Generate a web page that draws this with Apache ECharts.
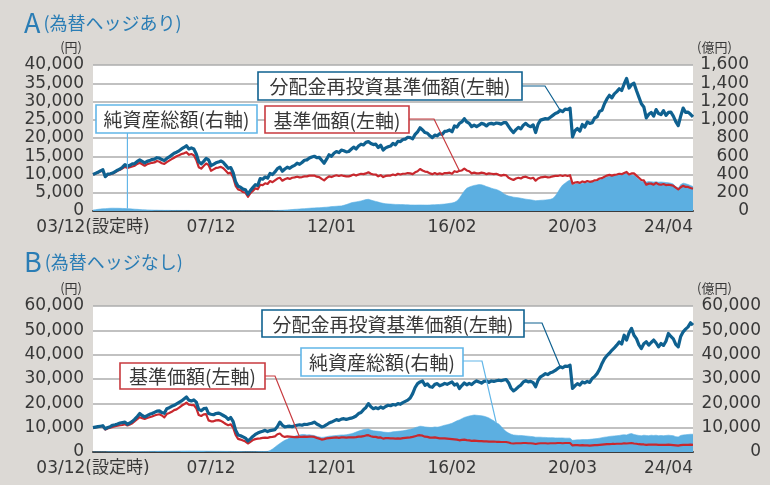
<!DOCTYPE html>
<html>
<head>
<meta charset="utf-8">
<script src="https://cdn.jsdelivr.net/npm/echarts@6/dist/echarts.min.js"></script>
<style>
  html, body { margin: 0; padding: 0; background: #dcd9d5; }
  #chart { width: 770px; height: 485px; }
</style>
</head>
<body>
<div id="chart"></div>
<script>
// Month-end readings, 2003/12 .. 2024/04 (one value per month)
const tickMonths = ['2003/12', '2007/12', '2012/01', '2016/02', '2020/03', '2024/04'];
const tickLabels = ['03/12(設定時)', '07/12', '12/01', '16/02', '20/03', '24/04'];

// A: hedged — reinvested NAV (円)
const reinvestA = [
  10000,
  10300,10600,11000,11300,9400,10100,10200,10400,10800,11200,11500,12000,
  12700,12300,12500,12900,13000,13600,14000,13600,13200,13600,13800,14100,
  14200,14600,14500,14100,13800,14400,14800,15300,15800,16100,16500,17000,
  17400,17900,17000,17300,17000,15600,13500,12900,13600,14400,14000,12400,
  12800,13200,13400,13700,13300,12500,11700,11900,10500,8000,6800,6500,
  6000,5800,4600,5600,6400,7200,7000,8900,8700,9300,9000,10300,
  10000,10700,11600,12000,10900,11500,12000,11700,12200,12500,13100,12800,
  13300,13900,14000,14500,14800,15000,14600,14700,13900,13100,14200,15400,
  15000,15800,16300,16000,16700,16500,16200,16300,16900,17500,17000,17800,
  18300,18100,18800,19000,18500,18200,18300,17400,18000,16700,17300,17600,
  17800,18500,18100,19100,19000,19600,19700,20200,20100,19800,21000,21700,
  22800,22200,21500,21300,20600,20100,20800,20600,21200,21000,21800,21900,
  22200,21700,23300,23000,24000,24400,25300,24400,24000,23100,23500,23100,
  23500,24000,23800,23300,23900,24000,23800,24100,24000,23800,24200,24200,
  23200,22200,21500,22300,22900,22500,23500,24000,23400,23100,23600,21500,
  23800,24900,25100,25300,25200,25700,26200,26700,27000,27600,27200,27900,
  27800,28200,20300,22000,22600,21900,23700,23000,24400,24000,24200,25500,
  25800,27300,27600,29400,30700,31700,31000,32100,32700,33500,33000,34800,
  36300,33700,34600,35000,33000,31200,29400,28500,25500,26500,27000,26000,
  27800,26700,26400,27500,26200,27000,27100,26000,24500,23400,26000,28200,
  27000,27100,26500,25800
];

// A: hedged — NAV (円)
const navA = [
  10000,
  10250,10550,10900,11000,9400,9900,10100,10300,10600,11000,11300,11700,
  12100,11800,12000,12200,12400,12900,13200,12800,12400,12800,13000,13200,
  13300,13700,13500,13100,12900,13400,13800,14200,14600,15000,15300,15600,
  15800,16100,15400,15600,15300,14000,12000,11600,12300,13000,12600,11000,
  11400,11800,11900,12100,11700,11000,10300,10500,9200,6900,5900,5700,
  5200,5000,3900,4900,5500,6200,6000,7200,7100,7600,7400,8200,
  7900,8400,8900,9100,8300,8700,9000,8800,9100,9200,9400,9200,
  9300,9500,9500,9700,9700,9700,9400,9300,8800,8400,9000,9500,
  9300,9600,9800,9600,9800,9600,9500,9500,9700,10000,9700,10000,
  10200,10100,10300,10600,10200,10000,10000,9500,9800,9300,9600,9700,
  9700,10000,9800,10200,10000,10200,10200,10400,10300,10100,10600,10900,
  11500,11100,10800,10700,10300,10100,10400,10100,10300,10100,10400,10400,
  10500,10200,10900,10700,11000,11100,11600,11100,10900,10300,10500,10300,
  10300,10500,10400,10100,10300,10200,10100,10200,9900,9700,9900,9800,
  9100,8800,8500,8900,9100,8900,9300,9400,9100,8900,9100,8300,
  8900,9200,9300,9400,9200,9300,9500,9600,9600,9800,9600,9800,
  9600,9800,7500,7800,7900,7700,8100,7900,8200,8000,8100,8400,
  8500,8900,9000,9400,9700,9900,9700,9900,10000,10200,10100,10400,
  10700,10000,10300,10300,9700,9100,8500,8400,7200,7500,7500,7200,
  7700,7300,7200,7400,7100,7200,7100,6900,6400,5900,6500,6900,
  6600,6600,6300,6100
];

// A: hedged — net assets (億円)
const assetsA = [
  10,
  14,18,22,25,26,28,30,31,30,30,29,28,
  27,26,24,22,20,18,16,14,13,12,11,10,
  9,9,8,8,7,7,7,6,6,6,6,6,
  6,6,6,5,5,5,5,5,5,5,5,4,
  4,4,4,4,4,4,4,4,3,3,3,3,
  3,3,3,3,3,3,3,3,3,3,3,3,
  4,5,6,7,8,10,12,14,16,18,20,22,
  24,26,28,30,32,34,35,36,38,40,42,45,
  48,50,52,54,56,62,70,80,90,95,100,105,
  110,118,125,128,120,112,105,98,90,84,80,78,
  76,74,72,72,70,70,68,68,66,66,65,66,
  66,66,65,65,66,68,68,70,72,74,76,80,
  84,88,95,110,140,180,220,250,262,272,280,285,
  290,288,280,268,260,250,242,236,225,210,190,175,
  165,158,152,148,145,140,135,130,126,122,118,113,
  115,117,119,121,124,128,138,165,205,250,285,305,
  325,340,285,295,300,302,305,308,312,315,320,322,
  330,340,350,362,372,378,385,392,400,405,410,414,
  415,405,395,390,370,345,325,320,318,322,320,318,
  320,316,318,315,312,310,305,295,265,250,290,305,
  300,290,280,268
];

// B: unhedged — reinvested NAV (円)
const reinvestB = [
  10000,
  10200,10400,10600,10800,9500,10100,10400,11000,11200,11500,11900,12100,
  12300,11400,11900,12600,13500,14600,15800,15000,14400,14900,15500,15800,
  16300,16800,16900,16200,15900,17800,18200,18800,19200,19800,20400,21000,
  21800,22600,21300,21000,21400,20500,17500,17000,17800,18000,15800,15500,
  15300,15800,16000,15600,15000,14400,13400,14200,12500,9000,7000,6700,
  6200,5700,4500,5400,6400,7200,7800,8200,8500,8900,8400,8800,
  9000,9200,10500,12300,11000,10300,10500,10600,10400,10800,11000,11200,
  11000,11400,11300,11600,11800,12300,11500,11000,10300,10600,11200,11900,
  12300,12800,13300,13000,13500,13700,13400,13700,13900,14300,14800,15800,
  16200,17400,18300,19900,18600,17800,18200,17800,18500,18000,18700,19200,
  19000,19500,19300,19900,19600,20300,20800,21300,22200,24000,26500,28100,
  28800,29200,27400,28000,26800,26600,27800,28100,27200,27600,28200,27800,
  28300,28800,27500,28000,26100,27300,28400,27600,28200,27700,28600,29200,
  28800,28300,29000,29200,28600,29200,29000,29300,29500,29300,29600,29800,
  28500,26200,25100,25800,26800,27500,28800,29300,28800,29000,28500,26800,
  29500,30900,31500,32200,31800,32600,32900,33500,34300,35000,34600,35300,
  35200,35700,26100,27200,28100,27500,28800,28400,29000,28600,30200,31000,
  32200,34000,36400,38300,39600,40600,41800,42800,43900,45200,44400,48000,
  46000,49000,50800,48000,46600,44000,42500,44500,45300,43900,45000,46000,
  44800,43200,44600,43800,45500,48700,47500,46500,44200,43200,47500,49400,
  50500,51400,53100,52100
];

// B: unhedged — NAV (円)
const navB = [
  10000,
  10100,10300,10500,10500,9200,9700,10000,10300,10600,10800,11000,11100,
  11400,10900,11300,11800,12700,13500,14300,13900,13600,14000,14300,14600,
  15000,15300,15500,15000,14200,15600,16000,16500,17200,17500,18200,19000,
  19600,20300,19500,19300,19300,18000,15200,14800,15500,15600,13000,12600,
  12600,13000,13100,12800,12200,11500,11000,11400,10000,7000,5400,5100,
  4700,4300,3500,4200,4900,5300,5500,5600,5800,5900,5800,6100,
  6200,6400,7300,7600,6600,6200,6400,6300,6200,6100,6100,6200,
  6200,6300,6200,6300,6300,6200,5800,5500,5100,5300,5600,5700,
  5800,5900,6000,5800,6000,6000,5900,6000,6000,6000,6100,6300,
  6300,6500,6800,6900,6500,6200,6200,5900,6000,5500,5700,5700,
  5600,5600,5500,5600,5500,5700,5800,5900,6000,6200,6500,6800,
  6900,6700,6300,6200,5900,5900,6000,5800,5600,5600,5600,5500,
  5400,5300,5200,5100,4800,5000,5100,4900,4800,4600,4700,4600,
  4500,4500,4400,4400,4300,4300,4300,4200,4200,4100,4100,4100,
  3900,3600,3500,3600,3600,3600,3700,3700,3600,3600,3500,3300,
  3500,3600,3600,3600,3500,3600,3600,3600,3700,3700,3600,3700,
  3700,3700,2700,2800,2800,2700,2800,2700,2700,2600,2700,2800,
  2800,2900,3000,3100,3200,3200,3300,3300,3400,3400,3400,3600,
  3500,3600,3700,3500,3400,3200,3100,3100,2900,3000,3000,3000,
  3000,2900,2900,2900,2900,3000,2900,2800,2700,2600,2800,2900,
  2900,2900,3000,2900
];

// B: unhedged — net assets (億円)
const assetsB = [
  0,
  20,30,40,50,50,60,70,80,90,100,110,120,
  130,140,150,160,170,180,190,200,210,220,230,240,
  250,260,270,280,290,300,310,320,330,340,350,360,
  370,380,390,400,400,390,380,370,360,350,340,330,
  320,310,300,290,280,270,260,250,230,200,180,160,
  150,140,130,130,140,150,160,170,180,200,250,600,
  1200,2000,2800,3500,4200,4800,5200,5800,6200,6500,6800,7000,
  7200,7200,7000,7100,6900,6800,6400,6200,6000,6100,6300,6500,
  6600,6700,6800,6900,7000,7000,7100,7300,7500,7800,8200,8600,
  8900,9200,9400,9500,9000,8700,8600,8500,8400,8200,8100,8000,
  8100,8300,8400,8500,8600,8700,8900,9100,9300,9600,10000,10300,
  10600,10500,10300,10200,10100,10100,10300,10200,10400,10700,11000,11200,
  11500,11800,12300,12800,13200,13700,14200,14500,14800,15000,15200,15100,
  15000,14900,14700,14400,14000,13400,12800,12000,11500,10500,9300,8400,
  7800,7300,7000,6900,6800,6800,6700,6600,6500,6400,6300,6100,
  6100,6100,6000,6000,5900,5900,5900,5800,5800,5800,5800,5700,
  5700,5700,4800,4900,5000,5000,5100,5100,5100,5200,5300,5400,
  5500,5700,5900,6100,6200,6400,6500,6600,6700,6800,7000,7100,
  7000,7400,7600,7200,7000,6800,6700,6900,6800,6700,6900,6800,
  6900,6700,6800,6700,6800,6900,6800,6700,6300,6200,6800,7000,
  7100,7200,7300,7300
];

// Monthly category list 2003/12 .. 2024/04
const months = [];
for (let y = 2003, m = 12; y < 2024 || (y === 2024 && m <= 4);) {
  months.push(y + '/' + String(m).padStart(2, '0'));
  if (++m > 12) { m = 1; y++; }
}

const BLUE = '#0f6190';
const RED = '#c8282e';
const AREA = '#5cafe1';
const AREA_EDGE = '#5ab2e6';
const TITLE = '#2a7db5';
const TEXT = '#383838';
const NUM_FONT = '"DejaVu Sans", "Noto Sans CJK JP", sans-serif';
const JP_FONT = '"Noto Sans CJK JP", sans-serif';

const fmt = v => v.toLocaleString('en-US');

function xAxisFor(grid) {
  return {
    type: 'category', gridIndex: grid, data: months, boundaryGap: false,
    axisLine: { show: true, lineStyle: { color: '#3c3c3c', width: 2 } },
    axisTick: { show: false },
    splitLine: { show: false },
    axisLabel: {
      interval: (i, v) => tickMonths.includes(v),
      formatter: v => { const k = tickMonths.indexOf(v); return k < 0 ? '' : tickLabels[k]; },
      color: TEXT, fontFamily: NUM_FONT, fontSize: 17, margin: 8,
      showMinLabel: true, showMaxLabel: true, alignMaxLabel: 'right'
    }
  };
}

function leftAxis(grid, max, step) {
  return {
    type: 'value', gridIndex: grid, position: 'left', min: 0, max: max, interval: step,
    name: '(円)', nameLocation: 'end', nameGap: 18,
    nameTextStyle: { color: TEXT, fontFamily: JP_FONT, fontSize: 13, align: 'right', verticalAlign: 'middle', padding: [0, 11, 0, 0] },
    axisLine: { show: false }, axisTick: { show: false },
    splitLine: { show: true, lineStyle: { color: '#adadad', width: 1.5 } },
    axisLabel: { color: TEXT, fontFamily: NUM_FONT, fontSize: 17, margin: 9, formatter: fmt }
  };
}

function rightAxis(grid, max, step, margin) {
  return {
    type: 'value', gridIndex: grid, position: 'right', min: 0, max: max, interval: step,
    name: '(億円)', nameLocation: 'end', nameGap: 18,
    nameTextStyle: { color: TEXT, fontFamily: JP_FONT, fontSize: 13, align: 'left', verticalAlign: 'middle', padding: [0, 0, 0, 4] },
    axisLine: { show: false }, axisTick: { show: false },
    splitLine: { show: false },
    axisLabel: { color: TEXT, fontFamily: NUM_FONT, fontSize: 17, margin: margin, align: 'right', formatter: fmt }
  };
}

function areaSeries(x, y, data) {
  return {
    type: 'line', xAxisIndex: x, yAxisIndex: y, data: data, showSymbol: false, symbol: 'none',
    lineStyle: { width: 0.6, color: AREA_EDGE }, areaStyle: { color: AREA, opacity: 1 }, z: 1
  };
}
function lineSeries(x, y, data, color, width, z) {
  return {
    type: 'line', xAxisIndex: x, yAxisIndex: y, data: data, showSymbol: false, symbol: 'none',
    lineStyle: { width: width, color: color, join: 'round' }, z: z
  };
}

function titleRich(letter, sub, top) {
  return {
    left: 19, top: top,
    text: '{a|' + letter + '}{b|' + sub + '}',
    textStyle: {
      fontWeight: 'normal',
      rich: {
        a: { fontSize: 27, fontWeight: 'normal', color: TITLE, fontFamily: JP_FONT, verticalAlign: 'middle' },
        b: { fontSize: 18, fontWeight: 'normal', color: TITLE, fontFamily: JP_FONT, verticalAlign: 'middle', padding: [2, 0, 0, 3] }
      }
    }
  };
}

const chart = echarts.init(document.getElementById('chart'));
chart.setOption({
  backgroundColor: '#dcd9d5',
  animation: false,
  title: [
    titleRich('A', '(為替ヘッジあり)', 4),
    titleRich('B', '(為替ヘッジなし)', 243)
  ],
  grid: [
    { left: 93, right: 77, top: 65, height: 146, show: true, backgroundColor: '#ffffff', borderWidth: 0 },
    { left: 93, right: 77, top: 306, height: 146, show: true, backgroundColor: '#ffffff', borderWidth: 0 }
  ],
  xAxis: [xAxisFor(0), xAxisFor(1)],
  yAxis: [
    leftAxis(0, 40000, 5000),
    rightAxis(0, 1600, 200, 56),
    leftAxis(1, 60000, 10000),
    rightAxis(1, 60000, 10000, 68)
  ],
  series: [
    areaSeries(0, 1, assetsA),
    lineSeries(0, 0, navA, RED, 2.2, 3),
    lineSeries(0, 0, reinvestA, BLUE, 3.2, 4),
    areaSeries(1, 3, assetsB),
    lineSeries(1, 2, navB, RED, 2.2, 3),
    lineSeries(1, 2, reinvestB, BLUE, 3.2, 4)
  ]
});

// Callout boxes with leader lines pointing at a month of the series they describe
const callouts = [
  { text: '分配金再投資基準価額(左軸)', color: BLUE, box: [258, 72, 264, 28], from: [522, 86], elbow: 545,
    finder: { xAxisIndex: 0, yAxisIndex: 0 }, idx: 190, series: reinvestA },
  { text: '純資産総額(右軸)', color: '#62b6e8', box: [96, 105, 161, 28], from: null, elbow: null,
    finder: { xAxisIndex: 0, yAxisIndex: 1 }, idx: 14, series: assetsA },
  { text: '基準価額(左軸)', color: '#c83a3f', box: [265, 106, 144, 27], from: [409, 119], elbow: 434,
    finder: { xAxisIndex: 0, yAxisIndex: 0 }, idx: 149, series: navA },
  { text: '分配金再投資基準価額(左軸)', color: BLUE, box: [262, 310, 262, 27], from: [524, 323], elbow: 542,
    finder: { xAxisIndex: 1, yAxisIndex: 2 }, idx: 190, series: reinvestB },
  { text: '純資産総額(右軸)', color: '#62b6e8', box: [301, 348, 162, 28], from: [463, 361], elbow: 482,
    finder: { xAxisIndex: 1, yAxisIndex: 3 }, idx: 164, series: assetsB },
  { text: '基準価額(左軸)', color: '#c83a3f', box: [120, 363, 145, 26], from: [265, 376], elbow: 275,
    finder: { xAxisIndex: 1, yAxisIndex: 2 }, idx: 84, series: navB }
];

const elements = [];
callouts.forEach(c => {
  const target = chart.convertToPixel(c.finder, [c.idx, c.series[c.idx]]);
  const points = c.from
    ? [c.from, [c.elbow, c.from[1]], target]
    : [[target[0], c.box[1] + c.box[3]], target];
  elements.push({
    type: 'polyline', z: 100, silent: true,
    shape: { points: points },
    style: { stroke: c.color, lineWidth: 1.2, fill: null }
  });
  elements.push({
    type: 'rect', z: 101, silent: true,
    shape: { x: c.box[0], y: c.box[1], width: c.box[2], height: c.box[3] },
    style: { fill: '#ffffff', stroke: c.color, lineWidth: 1.6 }
  });
  elements.push({
    type: 'text', z: 102, silent: true,
    x: c.box[0] + c.box[2] / 2, y: c.box[1] + c.box[3] / 2 + 1,
    style: { text: c.text, fill: TEXT, font: '19px ' + JP_FONT, align: 'center', verticalAlign: 'middle' }
  });
});
chart.setOption({ graphic: { elements: elements } });
</script>
</body>
</html>
